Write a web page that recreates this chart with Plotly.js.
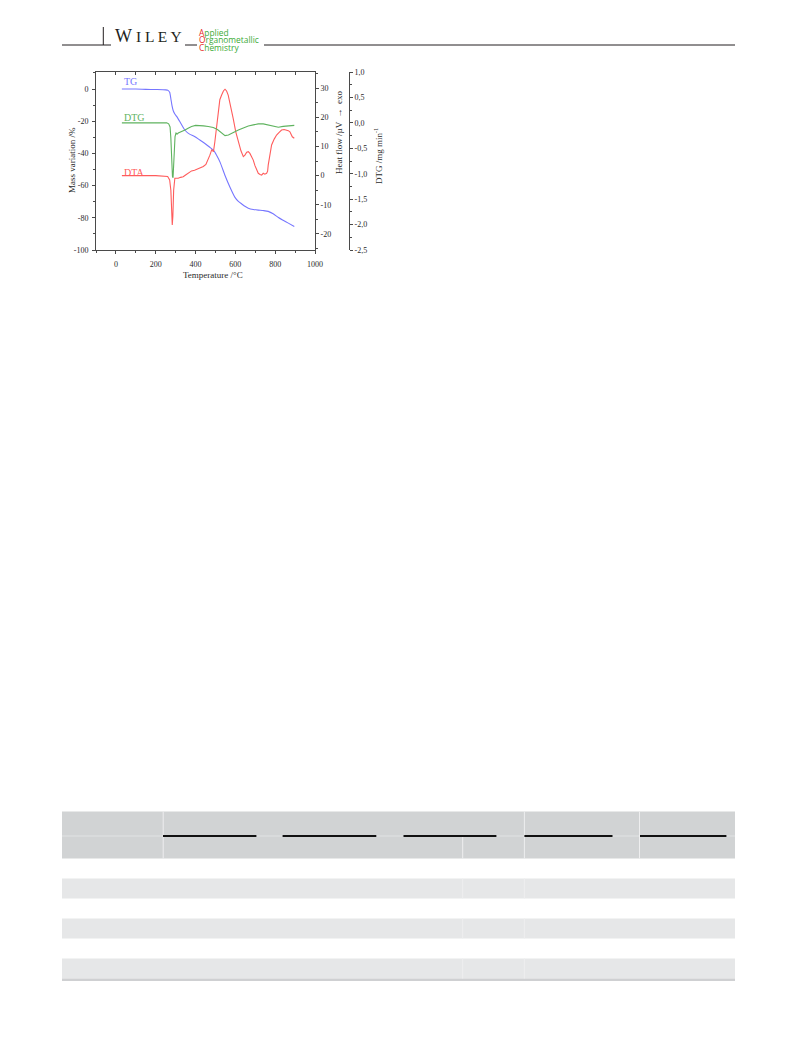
<!DOCTYPE html>
<html>
<head>
<meta charset="utf-8">
<script src="https://cdn.plot.ly/plotly-3.0.1.min.js"></script>
<style>
  html, body { margin: 0; padding: 0; background: #ffffff; }
  #page { width: 793px; height: 1043px; }
</style>
</head>
<body>
<div id="page"></div>
<script>
// Thermal analysis of the complex: TG (mass loss), DTG and DTA curves vs. temperature

// TG: mass variation (%)
const tgTemp = [30, 100, 150, 200, 250, 262, 270, 276, 282, 288, 296, 305, 320, 347, 370, 397, 420, 447, 470, 490, 505, 523, 548, 573, 598, 615, 632, 650, 665, 690, 715, 740, 765, 790, 816, 840, 866, 896];
const tgMass = [0, 0, -0.2, -0.3, -0.5, -0.8, -2, -6, -10.5, -13.5, -15.5, -17, -20, -25.6, -28, -29.6, -31.5, -33.8, -36, -38, -41, -45.4, -53.7, -61, -67.3, -69.8, -71.4, -73, -74, -74.8, -75.2, -75.5, -76, -77.5, -79.8, -81.5, -83.3, -85.4];

// DTG: rate of mass change (mg/min)
const dtgTemp = [30, 100, 200, 255, 265, 272, 276, 280, 284, 287, 290, 293, 297, 302, 308, 313, 320, 330, 347, 365, 380, 400, 414, 440, 464, 489, 510, 530, 548, 565, 581, 600, 615, 640, 665, 690, 715, 740, 765, 790, 816, 840, 866, 896];
const dtgRate = [0, 0, 0, 0, -0.02, -0.08, -0.3, -0.75, -1.05, -1.08, -0.85, -0.45, -0.27, -0.2, -0.22, -0.2, -0.19, -0.17, -0.14, -0.1, -0.07, -0.05, -0.05, -0.06, -0.07, -0.09, -0.13, -0.2, -0.25, -0.24, -0.2, -0.17, -0.14, -0.1, -0.06, -0.04, -0.02, -0.02, -0.04, -0.06, -0.085, -0.07, -0.06, -0.05];

// DTA: heat flow (µV), exo up
const dtaTemp = [30, 100, 200, 260, 270, 276, 280, 283, 286, 290, 296, 305, 313, 325, 338, 350, 363, 380, 395, 414, 425, 439, 452, 464, 472, 481, 490, 497, 505, 514, 522, 531, 540, 548, 556, 564, 576, 589, 602, 615, 628, 640, 648, 657, 665, 673, 682, 690, 698, 707, 715, 724, 732, 740, 748, 757, 762, 765, 772, 782, 795, 807, 820, 832, 845, 857, 866, 874, 880, 886, 896];
const dtaHeat = [0, 0, 0, -0.3, -1.5, -5, -11, -16.9, -14, -5, -0.9, -1, -0.9, -0.6, -0.4, 0.2, 0.8, 1.6, 1.8, 2.3, 2.8, 3.1, 3.8, 5.5, 7, 8.8, 8.2, 11.6, 17, 23, 26, 27.6, 29, 29.6, 29, 27.6, 24, 19.6, 15, 11.6, 8.5, 6.5, 7, 8, 8.2, 7.6, 6.5, 5.3, 3.5, 1.9, 0.8, 0.4, 0.2, 0.8, 0.5, 0.8, 1.5, 3.6, 7, 10.5, 12.5, 13.9, 14.8, 15.6, 15.8, 15.6, 15.4, 15, 14.2, 13.3, 12.8];

// Tick labels
const tempTicks = [0, 200, 400, 600, 800, 1000];
const massTicks = [-100, -80, -60, -40, -20, 0];
const massTickText = ['-100', '-80', '-60', '-40', '-20', '0'];
const heatTicks = [-20, -10, 0, 10, 20, 30];
const heatTickText = ['-20', '-10', '0', '10', '20', '30'];
const dtgTicks = [-2.5, -2.0, -1.5, -1.0, -0.5, 0.0, 0.5, 1.0];
const dtgTickText = ['-2,5', '-2,0', '-1,5', '-1,0', '-0,5', '0,0', '0,5', '1,0'];

const W = 793, H = 1043;
const px = x => x / W;
const py = y => 1 - y / H;

const serif = 'Liberation Serif, Times New Roman, serif';
const axisColor = '#4a4a4a';
const tickFont = () => ({ family: serif, size: 8, color: '#2a2a2a' });

const COLORS = { tg: '#7676ff', dtg: '#5fb35f', dta: '#ff5c5c' };

const traces = [
  { x: tgTemp, y: tgMass, xaxis: 'x', yaxis: 'y', mode: 'lines', name: 'TG',
    line: { color: COLORS.tg, width: 1.1, shape: 'spline', smoothing: 0.6 } },
  { x: dtaTemp, y: dtaHeat, xaxis: 'x', yaxis: 'y2', mode: 'lines', name: 'DTA',
    line: { color: COLORS.dta, width: 1.1 } },
  { x: dtgTemp, y: dtgRate, xaxis: 'x2', yaxis: 'y3', mode: 'lines', name: 'DTG',
    line: { color: COLORS.dtg, width: 1.1 } }
];

const baseAxis = () => ({
  showgrid: false, zeroline: false, showline: true,
  linecolor: axisColor, linewidth: 1, tickcolor: axisColor,
  ticklen: 3, tickwidth: 1, tickfont: tickFont(), fixedrange: true
});

const xDomain = [px(96), px(315)];
const yDomain = [py(250), py(72)];

const layout = {
  width: W, height: H,
  margin: { l: 0, r: 0, t: 0, b: 0, pad: 0 },
  paper_bgcolor: '#ffffff', plot_bgcolor: 'rgba(0,0,0,0)',
  showlegend: false,
  xaxis: Object.assign(baseAxis(), {
    domain: xDomain, range: [-100, 1000], anchor: 'y',
    tickmode: 'array', tickvals: tempTicks, ticks: 'outside', ticklabelstandoff: 3,
    minor: { tickmode: 'linear', tick0: 0, dtick: 100, ticks: 'outside', ticklen: 2, tickcolor: axisColor }
  }),
  xaxis2: Object.assign(baseAxis(), {
    overlaying: 'x', side: 'top', anchor: 'y', range: [-100, 1000],
    tickmode: 'linear', tick0: 0, dtick: 100, ticks: 'inside', showticklabels: false
  }),
  yaxis: Object.assign(baseAxis(), {
    domain: yDomain, range: [-100, 10.6], anchor: 'x',
    tickmode: 'array', tickvals: massTicks, ticktext: massTickText, ticks: 'outside', ticklabelstandoff: 2,
    minor: { tickmode: 'linear', tick0: 0, dtick: 10, ticks: 'outside', ticklen: 2, tickcolor: axisColor }
  }),
  yaxis2: Object.assign(baseAxis(), {
    overlaying: 'y', side: 'right', anchor: 'x', range: [-25.5, 35.5],
    tickmode: 'array', tickvals: heatTicks, ticktext: heatTickText, ticks: 'outside',
    minor: { tickmode: 'linear', tick0: 0, dtick: 5, ticks: 'outside', ticklen: 2, tickcolor: axisColor }
  }),
  yaxis3: Object.assign(baseAxis(), {
    overlaying: 'y', side: 'right', anchor: 'free', position: px(349), range: [-2.5, 1.0],
    tickmode: 'array', tickvals: dtgTicks, ticktext: dtgTickText, ticks: 'outside',
    minor: { tickmode: 'linear', tick0: 0, dtick: 0.25, ticks: 'outside', ticklen: 2, tickcolor: axisColor }
  }),
  shapes: [],
  annotations: []
};

function text(x, y, str, opts) {
  layout.annotations.push(Object.assign({
    xref: 'paper', yref: 'paper', x: px(x), y: py(y), text: str, showarrow: false,
    xanchor: 'center', yanchor: 'middle',
    font: { family: serif, size: 9, color: '#2a2a2a' }
  }, opts || {}));
}
function line(x0, y0, x1, y1, color, width) {
  layout.shapes.push({ type: 'line', xref: 'paper', yref: 'paper',
    x0: px(x0), y0: py(y0), x1: px(x1), y1: py(y1),
    line: { color: color, width: width } });
}
function rect(x0, y0, x1, y1, color) {
  layout.shapes.push({ type: 'rect', xref: 'paper', yref: 'paper', layer: 'below',
    x0: px(x0), y0: py(y0), x1: px(x1), y1: py(y1),
    fillcolor: color, line: { width: 0 } });
}

// Curve labels
text(121.5, 82, 'TG', { xanchor: 'left', font: { family: serif, size: 10, color: COLORS.tg } });
text(121.5, 117.5, 'DTG', { xanchor: 'left', font: { family: serif, size: 10, color: COLORS.dtg } });
text(121.5, 172, 'DTA', { xanchor: 'left', font: { family: serif, size: 10, color: COLORS.dta } });

// Axis titles
text(213, 275, 'Temperature /°C');
text(72, 160, 'Mass variation /%', { textangle: -90 });
text(339, 132, 'Heat flow /µV  →  exo', { textangle: -90 });
text(378, 156, 'DTG /mg min<sup>-1</sup>', { textangle: -90 });

// Running head
const ink = '#231f20';
line(62, 45, 111, 45, ink, 1);
line(103.3, 27, 103.3, 45, ink, 1);
line(185, 45, 197, 45, ink, 1);
line(264, 45, 735, 45, ink, 1);
text(113, 47.5, 'W<span style="font-size:15.5px"> I L E Y</span>',
  { xanchor: 'left', yanchor: 'bottom', font: { family: serif, size: 18, color: ink } });

// Journal logo: initial letters in red, the rest in green
const green = '#3aaa35', red = '#e52421';
const logoLines = [['A', 'pplied', 32], ['O', 'rganometallic', 39.6], ['C', 'hemistry', 47.2]];
logoLines.forEach(l => {
  text(197.5, l[2],
    '<span style="color:' + red + '">' + l[0] + '</span><span style="color:' + green + '">' + l[1] + '</span>',
    { xanchor: 'left', borderpad: 0, font: { family: 'Open Sans, sans-serif', size: 8.4, color: green } });
});

// Table block
rect(62, 811.5, 735, 858.5, '#d1d3d4');
rect(62, 878.5, 735, 898.5, '#e6e7e8');
rect(62, 918.5, 735, 938.5, '#e6e7e8');
rect(62, 958.5, 735, 978.5, '#e6e7e8');
rect(62, 978.5, 735, 981, '#cfd0d2');
const sep = '#eeeeef';
line(163.2, 811.5, 163.2, 858.5, sep, 1);
line(524.4, 811.5, 524.4, 858.5, sep, 1);
line(639.5, 811.5, 639.5, 858.5, sep, 1);
line(462.7, 836, 462.7, 858.5, sep, 1);
line(62, 836, 735, 836, sep, 0.6);
[[878.5, 898.5], [918.5, 938.5], [958.5, 978.5]].forEach(r => {
  line(462.7, r[0], 462.7, r[1], sep, 1);
  line(524.4, r[0], 524.4, r[1], sep, 1);
});
[[163, 256.4], [282.6, 376.3], [403.5, 496.4], [524.4, 612.5], [640, 726.4]].forEach(s => {
  line(s[0], 836, s[1], 836, '#111111', 1.8);
});

Plotly.newPlot('page', traces, layout, { displayModeBar: false, staticPlot: true });
</script>
</body>
</html>
